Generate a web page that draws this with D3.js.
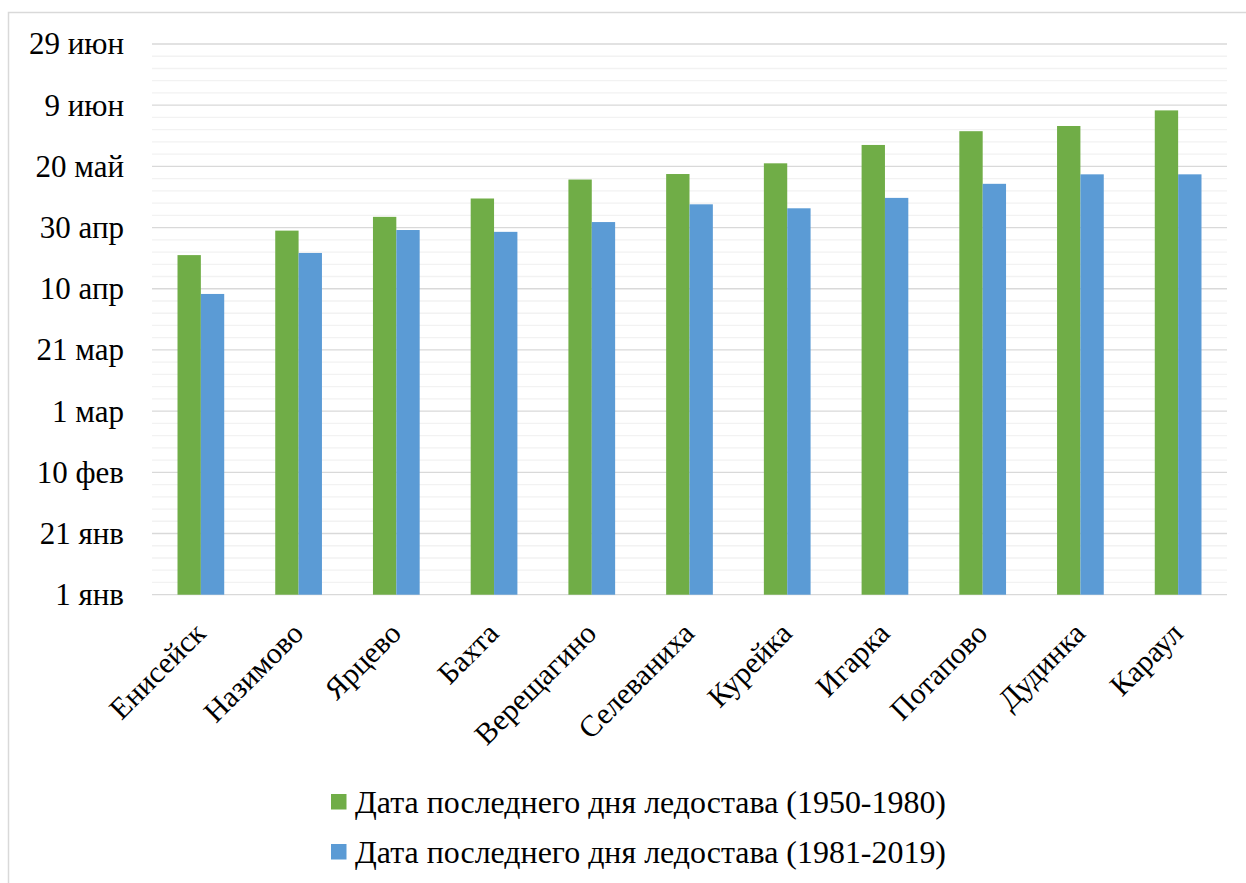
<!DOCTYPE html>
<html><head><meta charset="utf-8">
<script src="https://cdn.jsdelivr.net/npm/d3@7"></script>
<style>body{margin:0;background:#fff}svg{display:block}</style>
</head><body>
<svg id="c" width="1246" height="883"></svg>
<script>
const categories = ["Енисейск","Назимово","Ярцево","Бахта","Верещагино","Селеваниха","Курейка","Игарка","Потапово","Дудинка","Караул"];
// day offset from 1 Jan (Excel date serial minus 1)
const series1950 = [111, 119, 123.5, 129.5, 135.7, 137.5, 141, 147, 151.5, 153.2, 158.3];
const series1981 = [98.3, 111.7, 119.2, 118.6, 121.8, 127.6, 126.3, 129.7, 134.3, 137.4, 137.4];
const seriesNames = ["Дата последнего дня ледостава (1950-1980)","Дата последнего дня ледостава (1981-2019)"];
const seriesColors = ["#70AD47","#5B9BD5"];
const tickValues = [0,20,40,60,80,100,120,140,160,180];
const tickLabels = ["1 янв","21 янв","10 фев","1 мар","21 мар","10 апр","30 апр","20 май","9 июн","29 июн"];
const minorTicks = d3.range(0,181,4);

const FONT="Liberation Serif";
const svg = d3.select("#c");
const m={left:152,right:1227,top:44,bottom:594.7};

svg.append("rect").attr("x",8.5).attr("y",12.5).attr("width",1300).attr("height",1000)
  .attr("fill","none").attr("stroke","#d9d9d9").attr("stroke-width",1.5);

const y=d3.scaleLinear().domain([0,180]).range([m.bottom,m.top]);
const x0=d3.scaleBand().domain(categories).range([m.left,m.right]).paddingInner(0.522).paddingOuter(0.261);
const x1=d3.scaleBand().domain([0,1]).range([0,x0.bandwidth()]);

// minor grid
svg.append("g").selectAll("line").data(minorTicks.filter(d=>d%20!==0)).join("line")
  .attr("x1",m.left).attr("x2",m.right).attr("y1",d=>y(d)).attr("y2",d=>y(d))
  .attr("stroke","#f2f2f2").attr("stroke-width",1.3);
// major grid
svg.append("g").selectAll("line").data(tickValues).join("line")
  .attr("x1",m.left).attr("x2",m.right).attr("y1",d=>y(d)).attr("y2",d=>y(d))
  .attr("stroke","#d9d9d9").attr("stroke-width",1.3);

// y axis labels
const yAxis=d3.axisLeft(y).tickValues(tickValues).tickFormat((d,i)=>tickLabels[i]).tickSize(0).tickPadding(28);
const ga=svg.append("g").attr("transform",`translate(${m.left},0)`).call(yAxis);
ga.select(".domain").remove();
ga.attr("font-family",null).attr("font-size",null);
ga.selectAll("text").style("font-size","31px").style("font-family",FONT).attr("fill","#000");

// bars
const data=[series1950,series1981];
const groups=svg.append("g").selectAll("g").data(categories).join("g")
  .attr("transform",d=>`translate(${x0(d)},0)`);
groups.selectAll("rect").data((d,i)=>data.map((s,k)=>({k,v:s[i]}))).join("rect")
  .attr("x",d=>x1(d.k)).attr("width",x1.bandwidth())
  .attr("y",d=>y(d.v)).attr("height",d=>y(0)-y(d.v))
  .attr("fill",d=>seriesColors[d.k]);

// x labels
svg.append("g").selectAll("text").data(categories).join("text")
  .attr("transform",d=>`translate(${x0(d)+x0.bandwidth()/2-1},${m.bottom+33}) rotate(-45)`)
  .attr("text-anchor","end").attr("dy","0.35em")
  .style("font-size","30px").style("font-family",FONT).attr("fill","#000").text(d=>d);

// legend
const lg=svg.append("g");
seriesNames.forEach((n,i)=>{
  const cy=802+i*50;
  lg.append("rect").attr("x",331).attr("y",cy-8).attr("width",15.5).attr("height",15.5).attr("fill",seriesColors[i]);
  lg.append("text").attr("x",355).attr("y",cy).attr("dy","0.35em")
    .style("font-size","32px").style("font-family",FONT).attr("fill","#000")
    .attr("textLength",591).attr("lengthAdjust","spacingAndGlyphs").text(n);
});
</script>
</body></html>
